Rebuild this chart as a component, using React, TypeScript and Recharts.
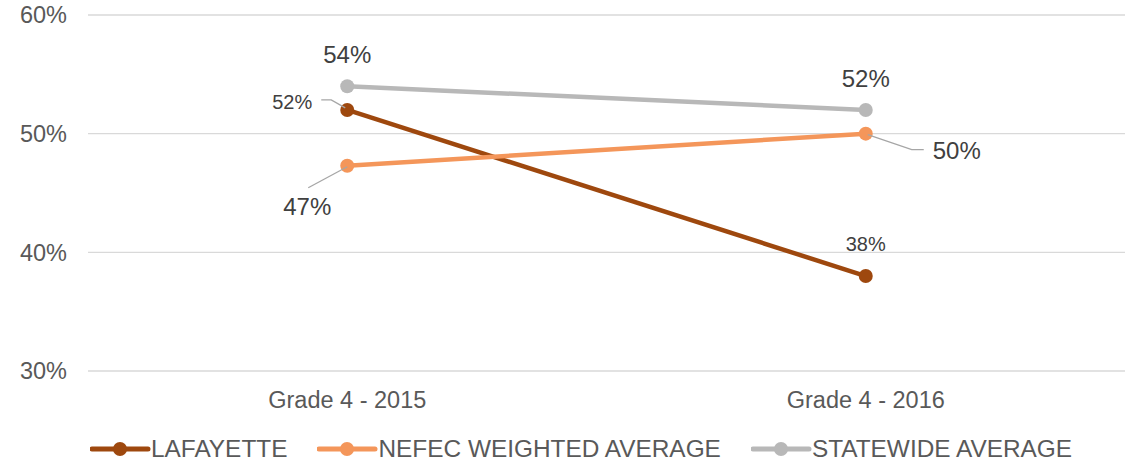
import { LineChart, Line, XAxis, YAxis, CartesianGrid } from "recharts";

const grades = ["Grade 4 - 2015", "Grade 4 - 2016"];
const lafayette = [0.52, 0.38];
const nefec = [0.473, 0.5];
const statewide = [0.54, 0.52];
const yTicks = [0.3, 0.4, 0.5, 0.6];

const FONT = "'Liberation Sans', Arial, sans-serif";
const TEXT = "#404040";
const AXIS_TEXT = "#595959";
const LEADER = "#a6a6a6";

const SERIES = [
  { key: "lafayette", name: "LAFAYETTE", color: "#9e480e" },
  { key: "nefec", name: "NEFEC WEIGHTED AVERAGE", color: "#f4965a" },
  { key: "statewide", name: "STATEWIDE AVERAGE", color: "#b8b8b8" },
];

const data = grades.map((g, i) => ({
  grade: g,
  lafayette: lafayette[i],
  nefec: nefec[i],
  statewide: statewide[i],
}));

const pct = (v: number) => `${Math.round(v * 100)}%`;

// label placement per series / point
function makeLabel(series: string) {
  return (props: any) => {
    const { x, y, value, index } = props;
    const t = pct(value);
    if (series === "statewide") {
      return (
        <text x={x} y={y - 23} textAnchor="middle" fontSize={24} fill={TEXT} fontFamily={FONT}>
          {t}
        </text>
      );
    }
    if (series === "lafayette") {
      if (index === 0) {
        return (
          <g>
            <polyline points={`${x - 26},${y - 10} ${x - 16},${y - 10} ${x - 2},${y - 2}`} fill="none" stroke={LEADER} strokeWidth={1.3} />
            <text x={x - 35} y={y - 1} textAnchor="end" fontSize={20} fill={TEXT} fontFamily={FONT}>
              {t}
            </text>
          </g>
        );
      }
      return (
        <text x={x} y={y - 25} textAnchor="middle" fontSize={20} fill={TEXT} fontFamily={FONT}>
          {t}
        </text>
      );
    }
    if (index === 0) {
      return (
        <g>
          <line x1={x} y1={y + 1} x2={x - 39} y2={y + 22} stroke={LEADER} strokeWidth={1.3} />
          <text x={x - 40} y={y + 49} textAnchor="middle" fontSize={24} fill={TEXT} fontFamily={FONT}>
            {t}
          </text>
        </g>
      );
    }
    return (
      <g>
        <polyline points={`${x + 2},${y + 1} ${x + 46},${y + 16} ${x + 58},${y + 16}`} fill="none" stroke={LEADER} strokeWidth={1.3} />
        <text x={x + 67} y={y + 25} textAnchor="start" fontSize={24} fill={TEXT} fontFamily={FONT}>
          {t}
        </text>
      </g>
    );
  };
}

function LegendRow() {
  return (
    <div
      style={{
        position: "absolute",
        left: 90,
        top: 436,
        height: 26,
        display: "flex",
        alignItems: "center",
        fontFamily: FONT,
        fontSize: 24.4,
        color: AXIS_TEXT,
        whiteSpace: "nowrap",
      }}
    >
      {SERIES.map((s, i) => (
        <div key={s.key} style={{ display: "flex", alignItems: "center", marginRight: i < 2 ? 30 : 0 }}>
          <svg width={61} height={20}>
            <line x1={2} y1={10} x2={58} y2={10} stroke={s.color} strokeWidth={5} strokeLinecap="round" />
            <circle cx={30} cy={10} r={7} fill={s.color} />
          </svg>
          <span style={{ lineHeight: "26px" }}>{s.name}</span>
        </div>
      ))}
    </div>
  );
}

export default function App() {
  return (
    <div style={{ position: "absolute", left: 0, top: 0, width: 1127, height: 463, background: "#fff" }}>
      <LineChart width={1127} height={430} data={data} margin={{ top: 15, right: 2, bottom: 0, left: 0 }}>
        <CartesianGrid stroke="#d9d9d9" strokeWidth={1.3} vertical={false} />
        <XAxis
          dataKey="grade"
          scale="band"
          axisLine={false}
          tickLine={false}
          tickSize={0}
          tickMargin={20}
          height={59}
          tick={{ fontSize: 23.5, fill: AXIS_TEXT, fontFamily: FONT }}
        />
        <YAxis
          domain={[0.3, 0.6]}
          ticks={yTicks}
          tickFormatter={pct}
          axisLine={false}
          tickLine={false}
          tickSize={0}
          tickMargin={21}
          width={88}
          tick={{ fontSize: 23.5, fill: AXIS_TEXT, fontFamily: FONT }}
        />
        {SERIES.map((s) => (
          <Line
            key={s.key}
            dataKey={s.key}
            name={s.name}
            stroke={s.color}
            strokeWidth={4.5}
            dot={{ r: 7, fill: s.color, stroke: s.color, strokeWidth: 0 }}
            activeDot={false}
            isAnimationActive={false}
            label={makeLabel(s.key)}
          />
        ))}
      </LineChart>
      <LegendRow />
    </div>
  );
}
